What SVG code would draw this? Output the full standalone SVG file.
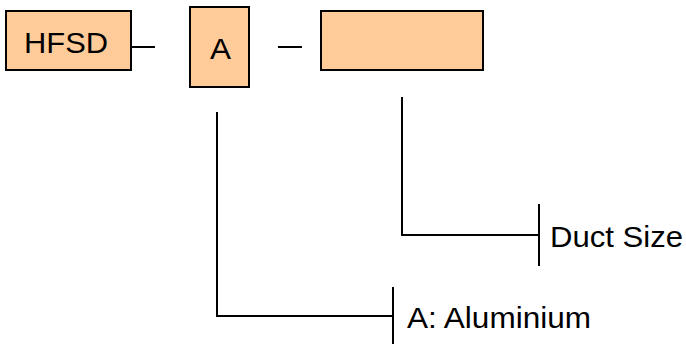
<svg xmlns="http://www.w3.org/2000/svg" width="686" height="345" viewBox="0 0 686 345">
<style>
.box{fill:#FFCC99;stroke:#000;stroke-width:2}
.ln{stroke:#000;stroke-width:2;fill:none}
.t{font-family:"Liberation Sans",Arial,sans-serif;font-size:30px;fill:#000}
</style>
<rect width="686" height="345" fill="#fff"/>
<g id="node-hfsd">
<rect class="box" x="6" y="11" width="125" height="59"/>
<text class="t" x="24" y="53" textLength="84" lengthAdjust="spacingAndGlyphs">HFSD</text>
</g>
<g id="node-a">
<rect class="box" x="190" y="7" width="59" height="80"/>
<text class="t" x="210" y="59" textLength="21" lengthAdjust="spacingAndGlyphs">A</text>
</g>
<g id="node-size">
<rect class="box" x="321" y="11" width="162" height="59"/>
</g>
<g id="label-duct">
<text class="t" x="550" y="247" textLength="133" lengthAdjust="spacingAndGlyphs">Duct Size</text>
</g>
<g id="label-alu">
<text class="t" x="407" y="328" textLength="184" lengthAdjust="spacingAndGlyphs">A: Aluminium</text>
</g>
<g id="connectors">
<line class="ln" x1="131" y1="47" x2="155" y2="47"/>
<line class="ln" x1="278" y1="47" x2="302" y2="47"/>
<polyline class="ln" points="217,112 217,316 393,316"/>
<line class="ln" x1="393" y1="287" x2="393" y2="344"/>
<polyline class="ln" points="402,97 402,235 539,235"/>
<line class="ln" x1="539" y1="204" x2="539" y2="266"/>
</g>
</svg>
